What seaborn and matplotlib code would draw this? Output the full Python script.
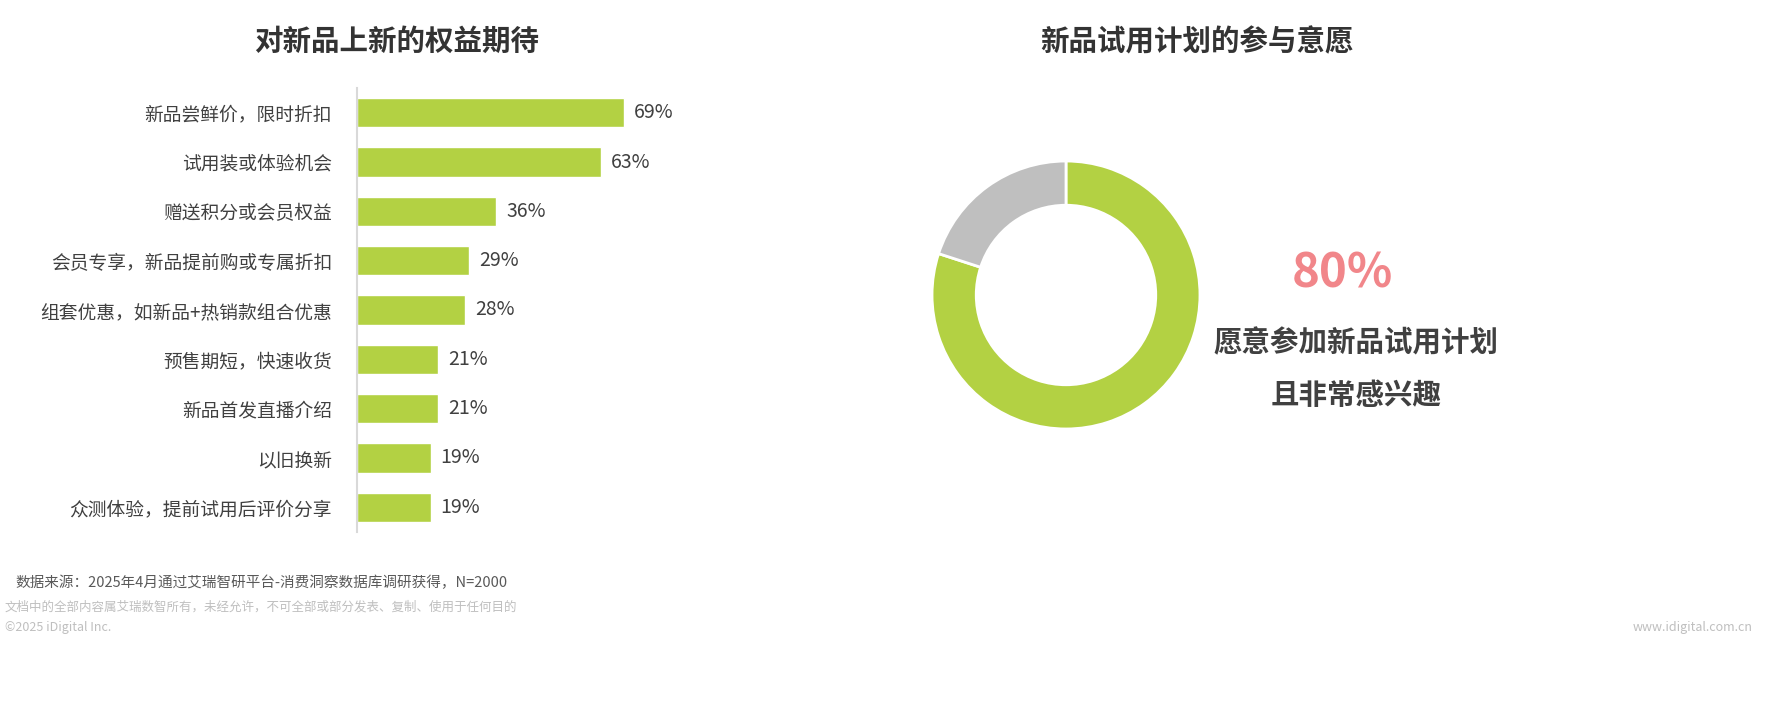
import matplotlib
matplotlib.use("Agg")
import matplotlib.pyplot as plt
import seaborn as sns
import pandas as pd

# data
benefits = ["新品尝鲜价，限时折扣", "试用装或体验机会", "赠送积分或会员权益",
            "会员专享，新品提前购或专属折扣", "组套优惠，如新品+热销款组合优惠",
            "预售期短，快速收货", "新品首发直播介绍", "以旧换新", "众测体验，提前试用后评价分享"]
benefit_pct = [69, 63, 36, 29, 28, 21, 21, 19, 19]
trial_labels = ["愿意参加且非常感兴趣", "其他"]
trial_pct = [80, 20]

GREEN = "#B3D143"
GRAY = "#BFBFBF"
TXT = "#404040"

sns.set_theme(style="white")
plt.rcParams["font.family"] = ["Noto Sans CJK SC", "DejaVu Sans"]

W, H = 1772, 726
fig = plt.figure(figsize=(W / 100, H / 100), dpi=100)

def box(x0, y0, x1, y1):
    # pixel box (top-left origin) -> figure fraction rect
    return [x0 / W, 1 - y1 / H, (x1 - x0) / W, (y1 - y0) / H]

# left: horizontal bars
ax = fig.add_axes(box(357, 88, 744, 532))
df = pd.DataFrame({"item": benefits, "pct": benefit_pct})
sns.barplot(data=df, x="pct", y="item", color=GREEN, width=0.6, saturation=1, ax=ax)
ax.set_xlim(0, 100)
ax.set_xlabel("")
ax.set_ylabel("")
ax.set_xticks([])
ax.tick_params(axis="y", length=0, pad=18, labelsize=13.5, labelcolor=TXT)
for s in ["top", "right", "bottom"]:
    ax.spines[s].set_visible(False)
ax.spines["left"].set_color("#D9D9D9")
ax.spines["left"].set_linewidth(1.5)
for i, v in enumerate(benefit_pct):
    ax.text(v + 2.6, i, f"{v}%", va="center", ha="left", fontsize=14, color=TXT)

fig.text(397 / W, 1 - 42 / H, "对新品上新的权益期待", ha="center", va="center",
         fontsize=20.5, fontweight="heavy", color="#333333")

# right: donut
ax2 = fig.add_axes(box(926, 155, 1206, 435))
ax2.pie(trial_pct, colors=[GREEN, GRAY], startangle=90, counterclock=False,
        radius=1, wedgeprops=dict(width=0.33, edgecolor="white", linewidth=2))
ax2.set_aspect("equal")
ax2.set_xlim(-1.045, 1.045)
ax2.set_ylim(-1.045, 1.045)
ax2.axis("off")

fig.text(1197 / W, 1 - 42 / H, "新品试用计划的参与意愿", ha="center", va="center",
         fontsize=20.5, fontweight="heavy", color="#333333")
fig.text(1342 / W, 1 - 273 / H, f"{trial_pct[0]}%", ha="center", va="center",
         fontsize=34, fontweight="bold", color="#F1868A")
fig.text(1356 / W, 1 - 343 / H, "愿意参加新品试用计划", ha="center", va="center",
         fontsize=20.5, fontweight="heavy", color=TXT)
fig.text(1356 / W, 1 - 396 / H, "且非常感兴趣", ha="center", va="center",
         fontsize=20.5, fontweight="heavy", color=TXT)

# footer
fig.text(15 / W, 1 - 583 / H, "数据来源：2025年4月通过艾瑞智研平台-消费洞察数据库调研获得，N=2000",
         ha="left", va="center", fontsize=10.5, color="#595959")
fig.text(5 / W, 1 - 607 / H, "文档中的全部内容属艾瑞数智所有，未经允许，不可全部或部分发表、复制、使用于任何目的",
         ha="left", va="center", fontsize=9, color="#BFBFBF")
fig.text(5 / W, 1 - 627 / H, "©2025 iDigital Inc.", ha="left", va="center",
         fontsize=9, color="#BFBFBF")
fig.text(1753 / W, 1 - 627 / H, "www.idigital.com.cn", ha="right", va="center",
         fontsize=9, color="#BFBFBF")

fig.savefig("out.png", dpi=100, facecolor="white")
